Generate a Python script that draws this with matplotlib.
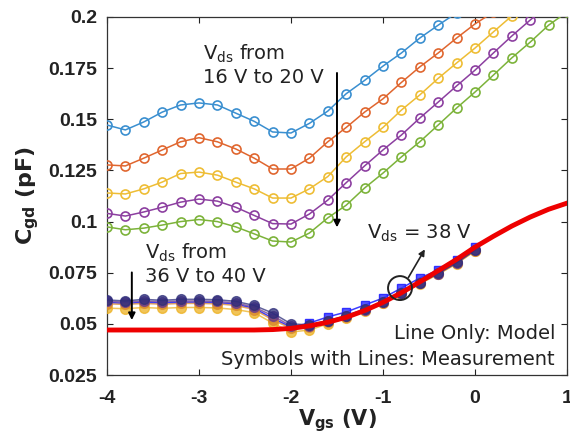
import numpy as np
import matplotlib
matplotlib.use('Agg')
import matplotlib.pyplot as plt
from matplotlib.patches import Ellipse

plt.rcParams['font.family'] = ['DejaVu Sans']

# gate voltage sweep (V)
vgs = [-4.0, -3.8, -3.6, -3.4, -3.2, -3.0, -2.8, -2.6, -2.4, -2.2, -2.0,
       -1.8, -1.6, -1.4, -1.2, -1.0, -0.8, -0.6, -0.4, -0.2, 0.0,
       0.2, 0.4, 0.6, 0.8, 1.0]

# measured Cgd (pF), Vds = 16 ... 20 V
cgd_16 = [0.1472, 0.1448, 0.1487, 0.1535, 0.1570, 0.1580, 0.1570, 0.1530, 0.1490, 0.1438,
          0.1433, 0.1480, 0.1540, 0.1625, 0.1690, 0.1760, 0.1824, 0.1897, 0.1960, 0.2020]
cgd_17 = [0.1277, 0.1272, 0.1310, 0.1350, 0.1390, 0.1410, 0.1390, 0.1355, 0.1310, 0.1257,
          0.1257, 0.1310, 0.1390, 0.1460, 0.1535, 0.1600, 0.1680, 0.1756, 0.1824, 0.1897,
          0.1966, 0.2024]
cgd_18 = [0.1140, 0.1135, 0.1160, 0.1193, 0.1235, 0.1242, 0.1227, 0.1193, 0.1160, 0.1115,
          0.1115, 0.1160, 0.1220, 0.1316, 0.1390, 0.1460, 0.1545, 0.1619, 0.1700, 0.1775,
          0.1848, 0.1927, 0.2005]
cgd_19 = [0.1040, 0.1027, 0.1047, 0.1070, 0.1095, 0.1110, 0.1100, 0.1070, 0.1030, 0.0990,
          0.0988, 0.1037, 0.1105, 0.1190, 0.1272, 0.1350, 0.1423, 0.1506, 0.1584, 0.1663,
          0.1740, 0.1824, 0.1907, 0.1985, 0.2060]
cgd_20 = [0.0974, 0.0960, 0.0968, 0.0983, 0.1000, 0.1010, 0.1000, 0.0974, 0.0940, 0.0905,
          0.0900, 0.0944, 0.1018, 0.1080, 0.1164, 0.1237, 0.1316, 0.1390, 0.1472, 0.1555,
          0.1633, 0.1716, 0.1800, 0.1877, 0.1960, 0.2024]

# measured Cgd (pF), Vds = 36 ... 40 V
cgd_36 = [0.0617, 0.0612, 0.0620, 0.0615, 0.0620, 0.0620, 0.0618, 0.0610, 0.0590, 0.0553,
          0.0500, 0.0495, 0.0515, 0.0540, 0.0572, 0.0608, 0.0652, 0.0702, 0.0748, 0.0800, 0.0862]
cgd_37 = [0.0610, 0.0606, 0.0612, 0.0608, 0.0612, 0.0612, 0.0610, 0.0602, 0.0582, 0.0540,
          0.0490, 0.0492, 0.0512, 0.0538, 0.0570, 0.0606, 0.0650, 0.0700, 0.0746, 0.0798, 0.0860]
cgd_38 = [0.0605, 0.0600, 0.0606, 0.0602, 0.0606, 0.0606, 0.0604, 0.0596, 0.0576, 0.0528,
          0.0484, 0.0504, 0.0534, 0.0558, 0.0592, 0.0626, 0.0675, 0.0724, 0.0763, 0.0812, 0.0876]
cgd_39 = [0.0598, 0.0595, 0.0600, 0.0596, 0.0600, 0.0600, 0.0598, 0.0590, 0.0570, 0.0520,
          0.0478, 0.0486, 0.0508, 0.0535, 0.0568, 0.0604, 0.0648, 0.0698, 0.0744, 0.0796, 0.0858]
cgd_40 = [0.0577, 0.0574, 0.0580, 0.0576, 0.0580, 0.0580, 0.0578, 0.0570, 0.0555, 0.0504,
          0.0460, 0.0470, 0.0500, 0.0530, 0.0565, 0.0602, 0.0646, 0.0696, 0.0742, 0.0794, 0.0856]

# compact model, Vds = 38 V
cgd_model = [0.0470, 0.0470, 0.0470, 0.0470, 0.0470, 0.0470, 0.0470, 0.0470, 0.0470, 0.0472,
             0.0478, 0.0490, 0.0508, 0.0532, 0.0565, 0.0605, 0.0652, 0.0705, 0.0760, 0.0815,
             0.0875, 0.0928, 0.0978, 0.1022, 0.1060, 0.1090]

xticks = [-4, -3, -2, -1, 0, 1]
xticklabels = ['-4', '-3', '-2', '-1', '0', '1']
yticks = [0.025, 0.05, 0.075, 0.1, 0.125, 0.15, 0.175, 0.2]
yticklabels = ['0.025', '0.05', '0.075', '0.1', '0.125', '0.15', '0.175', '0.2']

high_vds = [cgd_16, cgd_17, cgd_18, cgd_19, cgd_20]
high_colors = ['#3a8fd0', '#e0662f', '#eebd35', '#8c3fa0', '#7cb33a']
low_vds = [cgd_40, cgd_39, cgd_37, cgd_36]
low_colors = ['#edb120', '#d98a30', '#6a3a8c', '#2e2e7a']

fig = plt.figure(figsize=(5.7, 4.38), dpi=100)
ax = fig.add_axes([0.1877, 0.1438, 0.807, 0.8174])

for vals, c in zip(high_vds, high_colors):
    x = vgs[:len(vals)]
    ax.plot(x, vals, '-o', color=c, lw=1.1, ms=6.5, mfc='none', mew=1.2, zorder=3)

# Vds = 38 V highlighted with blue squares
ax.plot(vgs[:len(cgd_38)], cgd_38, '-s', color='#1a1aff', lw=1.1, ms=5.5,
        mfc='#3a3aff', mec='#1a1aff', alpha=0.85, zorder=3)
for vals, c in zip(low_vds, low_colors):
    x = vgs[:len(vals)]
    ax.plot(x, vals, '-o', color=c, lw=1.1, ms=7, mfc=c, mec=c, alpha=0.75, zorder=3)

ax.plot(vgs, cgd_model, '-', color='#ee0000', lw=3.5, zorder=5)

ax.set_xlim(-4, 1)
ax.set_ylim(0.025, 0.2)
ax.set_xticks(xticks)
ax.set_xticklabels(xticklabels)
ax.set_yticks(yticks)
ax.set_yticklabels(yticklabels)
ax.tick_params(direction='in', top=True, right=True, length=4, width=0.8,
               labelsize=14, colors='#222222')
ax.tick_params(axis='x', pad=11)
ax.tick_params(axis='y', pad=7)
for lab in ax.get_xticklabels() + ax.get_yticklabels():
    lab.set_fontweight('bold')
    lab.set_fontfamily('Liberation Sans')
for sp in ax.spines.values():
    sp.set_color('#333333')
    sp.set_linewidth(0.9)

ax.set_xlabel('V$_{\\mathbf{gs}}$ (V)', fontsize=15, fontweight='bold', color='#222222', labelpad=0)
ax.set_ylabel('C$_{\\mathbf{gd}}$ (pF)', fontsize=16, fontweight='bold', color='#222222', labelpad=5)

txt = dict(fontsize=14, color='#222222')
ax.text(-2.957, 0.1768, 'V$_{\\mathregular{ds}}$ from\n16 V to 20 V', ha='left', va='center',
        linespacing=1.2, **txt)
ax.annotate('', xy=(-1.5, 0.0958), xytext=(-1.5, 0.174),
            arrowprops=dict(arrowstyle='-|>', color='black', lw=1.4, mutation_scale=10))

ax.text(-3.587, 0.0795, 'V$_{\\mathregular{ds}}$ from\n36 V to 40 V', ha='left', va='center',
        linespacing=1.2, **txt)
ax.annotate('', xy=(-3.73, 0.0505), xytext=(-3.73, 0.0765),
            arrowprops=dict(arrowstyle='-|>', color='black', lw=1.4, mutation_scale=10))

ax.text(-1.174, 0.0944, 'V$_{\\mathregular{ds}}$ = 38 V', ha='left', va='center', **txt)
ax.add_patch(Ellipse((-0.815, 0.0675), 0.26, 0.0117, fill=False, ec='#222222', lw=1.4, zorder=6))
ax.annotate('', xy=(-0.53, 0.0876), xytext=(-0.74, 0.0714),
            arrowprops=dict(arrowstyle='-|>', color='#222222', lw=1.2, mutation_scale=9), zorder=6)

ax.text(0.87, 0.0455, 'Line Only: Model', ha='right', va='center', **txt)
ax.text(0.87, 0.0328, 'Symbols with Lines: Measurement', ha='right', va='center', **txt)

fig.savefig('out.png', dpi=100)
